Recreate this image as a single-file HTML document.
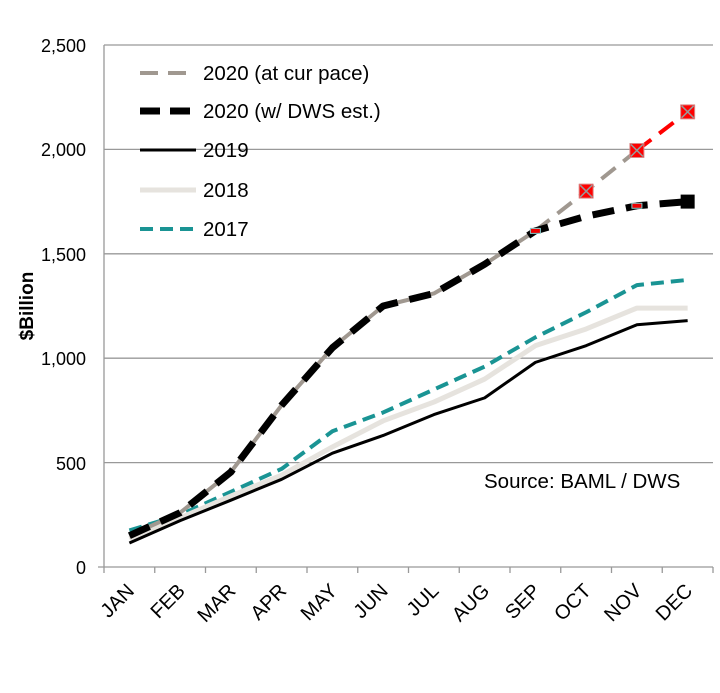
<!DOCTYPE html>
<html><head><style>body{margin:0;background:#fff}svg{display:block}text{font-family:"Liberation Sans",Arial,sans-serif;fill:#000}</style></head><body>
<svg width="720" height="693" viewBox="0 0 720 693" xmlns="http://www.w3.org/2000/svg">
<g stroke="#999" stroke-width="1.3">
<line x1="104" y1="45" x2="713" y2="45"/><line x1="104" y1="149.4" x2="713" y2="149.4"/><line x1="104" y1="253.8" x2="713" y2="253.8"/><line x1="104" y1="358.2" x2="713" y2="358.2"/><line x1="104" y1="462.6" x2="713" y2="462.6"/>
<line x1="104" y1="45" x2="104" y2="567"/><line x1="98" y1="567" x2="713" y2="567"/>
</g>
<g stroke="#999" stroke-width="1.3" id="ticks"></g>
<g font-size="18" text-anchor="end">
<text x="86" y="52">2,500</text><text x="86" y="156">2,000</text><text x="86" y="261">1,500</text><text x="86" y="365">1,000</text><text x="86" y="470">500</text><text x="86" y="574">0</text>
</g>
<text transform="translate(33,306) rotate(-90)" font-size="19" font-weight="bold" text-anchor="middle">$Billion</text>
<g font-size="20" id="xl"></g>
<text x="484" y="488" font-size="20.5">Source: BAML / DWS</text>
<g id="series" fill="none" stroke-linejoin="round"></g>
<g font-size="20.5">
<line x1="140" y1="73" x2="196" y2="73" stroke="#a09890" stroke-width="4" stroke-dasharray="18,10"/><text x="203" y="80">2020 (at cur pace)</text>
<line x1="140" y1="111" x2="196" y2="111" stroke="#000" stroke-width="7" stroke-dasharray="20,10"/><text x="203" y="118">2020 (w/ DWS est.)</text>
<line x1="140" y1="150" x2="196" y2="150" stroke="#000" stroke-width="3"/><text x="203" y="157">2019</text>
<line x1="140" y1="190" x2="196" y2="190" stroke="#e6e3de" stroke-width="5"/><text x="203" y="197">2018</text>
<line x1="140" y1="229" x2="196" y2="229" stroke="#1a9494" stroke-width="4" stroke-dasharray="13,7"/><text x="203" y="236">2017</text>
</g>
<script>
var X=i=>129.4+i*50.75,Y=v=>567-0.2088*v,ns="http://www.w3.org/2000/svg";
function el(p,t,a){var e=document.createElementNS(ns,t);for(var k in a)e.setAttribute(k,a[k]);p.appendChild(e);return e}
var tk=document.getElementById('ticks');for(var i=0;i<=12;i++){var x=104+i*50.75;el(tk,'line',{x1:x,y1:567,x2:x,y2:573})}
var m=["JAN","FEB","MAR","APR","MAY","JUN","JUL","AUG","SEP","OCT","NOV","DEC"],xl=document.getElementById('xl');
m.forEach((s,i)=>{var t=el(xl,'text',{transform:"translate("+(X(i)+6)+",592) rotate(-45)","text-anchor":"end"});t.textContent=s});
var S=document.getElementById('series');
function pl(d,a,from){var p=d.map((v,i)=>v==null?null:X(i+(from||0))+","+Y(v)).filter(x=>x).join(" ");a.points=p;el(S,'polyline',a)}
pl([175,250,360,470,650,740,850,960,1100,1220,1350,1375],{stroke:"#1a9494","stroke-width":4,"stroke-dasharray":"13,7"});
pl([135,235,340,440,575,700,790,900,1060,1140,1240,1240],{stroke:"#e6e3de","stroke-width":5});
pl([115,222,320,420,545,630,730,810,980,1060,1160,1180],{stroke:"#000","stroke-width":3});
pl([150,260,455,775,1050,1250,1310,1450,1610],{stroke:"#a09890","stroke-width":4});
pl([1610,1800,1995],{stroke:"#a09890","stroke-width":4,"stroke-dasharray":"18,10"},8);
pl([1995,2180],{stroke:"#f00","stroke-width":4,"stroke-dasharray":"18,10"},10);
pl([150,260,455,775,1050,1250,1310,1450,1610,1680,1730,1750],{stroke:"#000","stroke-width":7,"stroke-dasharray":"22,12"});
[[9,1800],[10,1995],[11,2180]].forEach(p=>{var x=X(p[0]),y=Y(p[1]);el(S,'rect',{x:x-7,y:y-7,width:14,height:14,fill:"#f00",stroke:"#d88"});el(S,'path',{d:"M"+(x-6)+","+(y-6)+"L"+(x+6)+","+(y+6)+"M"+(x+6)+","+(y-6)+"L"+(x-6)+","+(y+6),stroke:"#999","stroke-width":1.5})});
el(S,'rect',{x:X(11)-7,y:Y(1750)-7,width:14,height:14,fill:"#000"});
[[8,1610],[10,1730]].forEach(p=>{el(S,'rect',{x:X(p[0])-5,y:Y(p[1])-2.5,width:10,height:5,fill:"#e00",stroke:"#8cc","stroke-width":1})});
</script>
</svg></body></html>
